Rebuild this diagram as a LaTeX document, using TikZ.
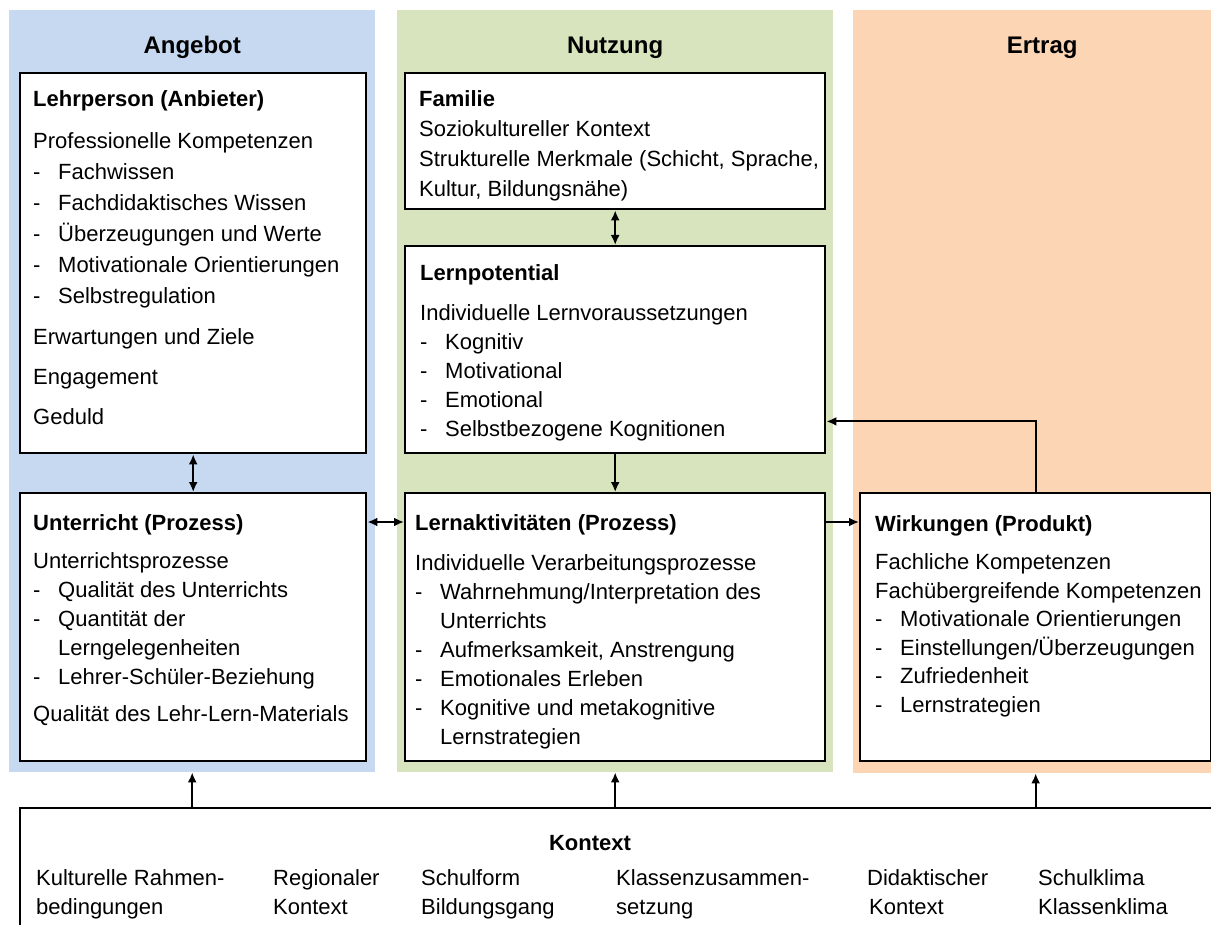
\documentclass[tikz,border=0pt]{standalone}
\usepackage{fontspec}
\setmainfont{Liberation Sans}
\usetikzlibrary{arrows.meta,positioning}
\definecolor{angebotblue}{HTML}{C6D9F1}
\definecolor{nutzunggreen}{HTML}{D7E4BD}
\definecolor{ertragorange}{HTML}{FCD5B5}
\newcommand{\boxhead}[1]{\rule{0pt}{17pt}\textbf{#1}}
\newcommand{\itm}{\makebox[25pt][l]{-}}
\newcommand{\ind}{\hspace*{25pt}}
\tikzset{
  column/.style={draw=none, inner sep=0pt, anchor=north west},
  box/.style={draw, line width=2.4pt, fill=white, inner sep=0pt, anchor=north west},
  txt/.style={align=left, inner sep=0pt, anchor=north west, font=\fontsize{22pt}{29pt}\selectfont},
  head/.style={font=\fontsize{24pt}{29pt}\selectfont\bfseries, anchor=base},
  link/.style={line width=2pt, -{Latex[length=10pt,width=9pt]}},
  twolink/.style={line width=2pt, {Latex[length=10pt,width=9pt]}-{Latex[length=10pt,width=9pt]}}
}
\begin{document}
\begin{tikzpicture}[x=1pt, y=-1pt]
        \useasboundingbox (0,0) rectangle (1211,925);
        \clip (0,0) rectangle (1211,925);
        % columns
        \node[column, fill=angebotblue, minimum width=366pt, minimum height=762pt] (angebot) at (9,10) {};
        \node[column, fill=nutzunggreen, minimum width=436pt, minimum height=762pt] (nutzung) at (397,10) {};
        \node[column, fill=ertragorange, minimum width=378pt, minimum height=763pt] (ertrag) at (853,10) {};
        \path (angebot.north) ++(0,44) node[head] (angebottitle) {Angebot};
        \path (nutzung.north) ++(0,44) node[head] (nutzungtitle) {Nutzung};
        \path (ertrag.north) ++(0,44) node[head] (ertragtitle) {Ertrag};
        % boxes
        \node[box, minimum width=346pt, minimum height=380pt] (lehrer) at (19,72) {};
        \node[box, minimum width=346pt, minimum height=268pt] (unterricht) at (19,492) {};
        \node[box, minimum width=420pt, minimum height=136pt] (familie) at (404,72) {};
        \node[box, minimum width=420pt, minimum height=207pt] (lernpot) at (404,245) {};
        \node[box, minimum width=420pt, minimum height=268pt] (lernakt) at (404,492) {};
        \node[box, minimum width=351pt, minimum height=268pt] (wirkung) at (859,492) {};
        \node[box, minimum width=1200pt, minimum height=125pt] (kontext) at (19,807) {};
        % box texts
        \node[txt, font=\fontsize{22pt}{31pt}\selectfont] (lehrertext) at (33,89) {\boxhead{Lehrperson (Anbieter)}\\[11pt]
          Professionelle Kompetenzen\\
          \itm Fachwissen\\
          \itm Fachdidaktisches Wissen\\
          \itm Überzeugungen und Werte\\
          \itm Motivationale Orientierungen\\
          \itm Selbstregulation\\[10pt]
          Erwartungen und Ziele\\[9pt]
          Engagement\\[9pt]
          Geduld};
        \node[txt] (unterrichttext) at (33,513) {\boxhead{Unterricht (Prozess)}\\[9pt]
          Unterrichtsprozesse\\
          \itm Qualität des Unterrichts\\
          \itm Quantität der\\
          \ind Lerngelegenheiten\\
          \itm Lehrer-Schüler-Beziehung\\[8pt]
          Qualität des Lehr-Lern-Materials};
        \node[txt, font=\fontsize{22pt}{30pt}\selectfont] (familietext) at (419,89) {\boxhead{Familie}\\
          Soziokultureller Kontext\\
          Strukturelle Merkmale (Schicht, Sprache,\\
          Kultur, Bildungsnähe)};
        \node[txt] (lernpottext) at (420,263) {\boxhead{Lernpotential}\\[11pt]
          Individuelle Lernvoraussetzungen\\
          \itm Kognitiv\\
          \itm Motivational\\
          \itm Emotional\\
          \itm Selbstbezogene Kognitionen};
        \node[txt] (lernakttext) at (415,513) {\boxhead{Lernaktivitäten (Prozess)}\\[11pt]
          Individuelle Verarbeitungsprozesse\\
          \itm Wahrnehmung/Interpretation des\\
          \ind Unterrichts\\
          \itm Aufmerksamkeit, Anstrengung\\
          \itm Emotionales Erleben\\
          \itm Kognitive und metakognitive\\
          \ind Lernstrategien};
        \node[txt, font=\fontsize{22pt}{28.5pt}\selectfont] (wirkungtext) at (875,514) {\boxhead{Wirkungen (Produkt)}\\[10pt]
          Fachliche Kompetenzen\\
          Fachübergreifende Kompetenzen\\
          \itm Motivationale Orientierungen\\
          \itm Einstellungen/Überzeugungen\\
          \itm Zufriedenheit\\
          \itm Lernstrategien};
        % context
        \node[txt, anchor=base, font=\fontsize{22pt}{29pt}\selectfont\bfseries] (kontexttitle) at (590,850) {Kontext};
        \node[txt] (kultur) at (36,869) {Kulturelle Rahmen-\\bedingungen};
        \node[txt] (region) at (273,869) {Regionaler\\Kontext};
        \node[txt] (schulform) at (421,869) {Schulform\\Bildungsgang};
        \node[txt] (klasse) at (616,869) {Klassenzusammen-\\setzung};
        \node[txt] (didaktik) at (867,869) {Didaktischer\\\hspace*{2pt}Kontext};
        \node[txt] (klima) at (1038,869) {Schulklima\\Klassenklima};
        % connectors
        \draw[twolink] (lehrer.south) -- (unterricht.north);
        \draw[twolink] (familie.south) -- (lernpot.north);
        \draw[link] (lernpot.south) -- (lernakt.north);
        \draw[twolink] ([yshift=-30pt]unterricht.north east) -- ([yshift=-30pt]lernakt.north west);
        \draw[link] ([yshift=-30pt]lernakt.north east) -- ([yshift=-30pt]wirkung.north west);
        \draw[link] (wirkung.north) |- ([yshift=33pt]lernpot.south east);
        \draw[link] (kontext.north -| angebot.south) -- (angebot.south);
        \draw[link] (kontext.north -| lernakt.south) -- (lernakt.south |- nutzung.south);
        \draw[link] (kontext.north -| wirkung.south) -- (wirkung.south |- ertrag.south);
\end{tikzpicture}
\end{document}
